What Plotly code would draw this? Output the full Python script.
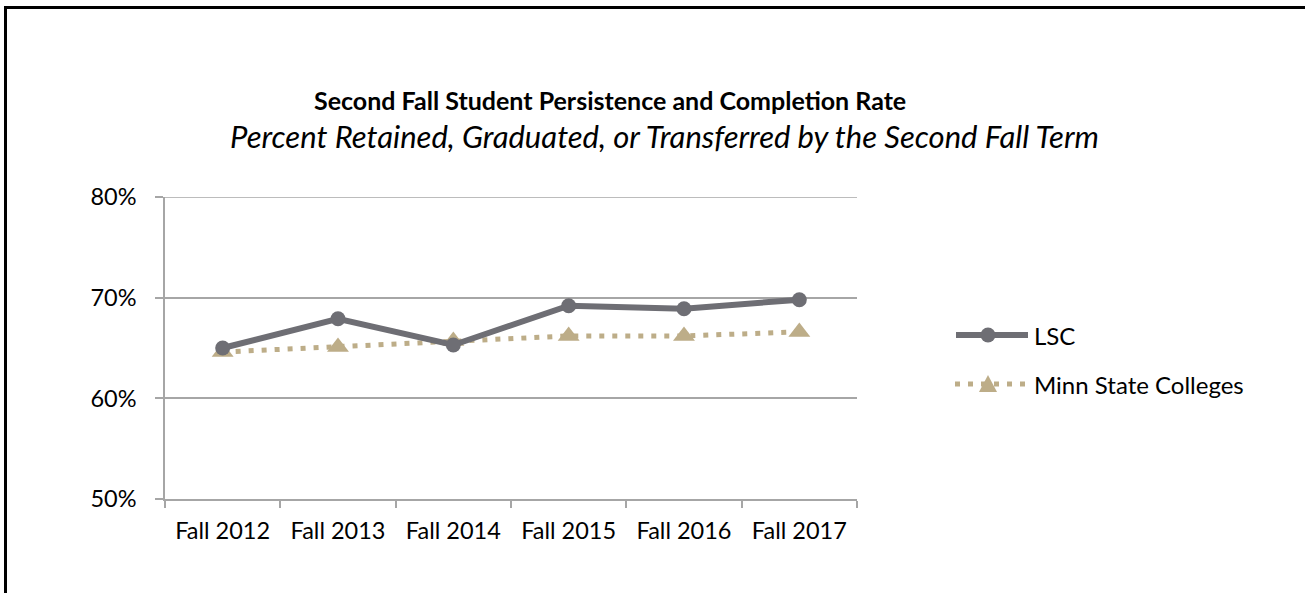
import plotly.graph_objects as go

# Cohort terms and second-fall persistence/completion rates (fractions)
terms = ["Fall 2012", "Fall 2013", "Fall 2014", "Fall 2015", "Fall 2016", "Fall 2017"]
lsc_rate = [0.650, 0.679, 0.653, 0.692, 0.689, 0.698]
minn_state_rate = [0.646, 0.651, 0.657, 0.662, 0.662, 0.666]
y_ticks = [0.5, 0.6, 0.7, 0.8]

series_names = ["LSC", "Minn State Colleges"]
LSC_COLOR = "#6E6E74"
MSC_COLOR = "#BDAD88"
GRID = "#A6A6A6"
FONT = "Lato"

W, H = 1305, 593
L, R, T, B = 165, 1305 - 857, 197, 593 - 499
PW, PH = W - L - R, H - T - B


def px_x(x):
    return (x - L) / PW


def px_y(y):
    return (H - B - y) / PH


fig = go.Figure()
fig.add_trace(go.Scatter(
    x=terms, y=minn_state_rate, name=series_names[1], mode="lines+markers",
    line=dict(color=MSC_COLOR, width=5, dash="5px,8px"),
    marker=dict(symbol="triangle-up", size=19, color=MSC_COLOR),
    showlegend=False,
))
fig.add_trace(go.Scatter(
    x=terms, y=lsc_rate, name=series_names[0], mode="lines+markers",
    line=dict(color=LSC_COLOR, width=6),
    marker=dict(symbol="circle", size=15, color=LSC_COLOR),
    showlegend=False,
))

shapes = []
annotations = []

# top gridline at the upper end of the value range
shapes.append(dict(type="line", xref="paper", yref="y",
                   x0=0, x1=1, y0=y_ticks[-1], y1=y_ticks[-1],
                   line=dict(color=GRID, width=1.5), layer="below"))

# outer frame (top and left edges visible)
shapes.append(dict(type="rect", xref="paper", yref="paper",
                   x0=px_x(5.5), x1=px_x(1320), y0=px_y(608), y1=px_y(7.5),
                   line=dict(color="black", width=3), layer="above"))

# legend: LSC
ly1 = px_y(335)
shapes.append(dict(type="line", xref="paper", yref="paper",
                   x0=px_x(956), x1=px_x(1028), y0=ly1, y1=ly1,
                   line=dict(color=LSC_COLOR, width=6)))
shapes.append(dict(type="circle", xref="paper", yref="paper",
                   xsizemode="pixel", ysizemode="pixel",
                   xanchor=px_x(988), yanchor=ly1,
                   x0=-7.5, x1=7.5, y0=-7.5, y1=7.5,
                   fillcolor=LSC_COLOR, line=dict(width=0)))
annotations.append(dict(x=px_x(1032), y=ly1, xref="paper", yref="paper",
                        text=series_names[0], showarrow=False,
                        xanchor="left", yanchor="middle",
                        font=dict(family=FONT, size=24, color="black")))

# legend: Minn State Colleges
ly2 = px_y(384)
shapes.append(dict(type="line", xref="paper", yref="paper",
                   x0=px_x(955), x1=px_x(1028), y0=ly2, y1=ly2,
                   line=dict(color=MSC_COLOR, width=5, dash="5px,8px")))
shapes.append(dict(type="path", xref="paper", yref="paper",
                   xsizemode="pixel", ysizemode="pixel",
                   xanchor=px_x(988), yanchor=ly2,
                   path="M -9,-8 L 9,-8 L 0,9 Z",
                   fillcolor=MSC_COLOR, line=dict(width=0)))
annotations.append(dict(x=px_x(1032), y=ly2, xref="paper", yref="paper",
                        text=series_names[1], showarrow=False,
                        xanchor="left", yanchor="middle",
                        font=dict(family=FONT, size=24, color="black")))

# titles
annotations.append(dict(x=px_x(610), y=px_y(100), xref="paper", yref="paper",
                        text="<b>Second Fall Student Persistence and Completion Rate</b>",
                        showarrow=False, xanchor="center", yanchor="middle",
                        font=dict(family=FONT, size=25, color="black")))
annotations.append(dict(x=px_x(664), y=px_y(136), xref="paper", yref="paper",
                        text="<i>Percent Retained, Graduated, or Transferred by the Second Fall Term</i>",
                        showarrow=False, xanchor="center", yanchor="middle",
                        font=dict(family=FONT, size=31, color="black")))

fig.update_layout(
    width=W, height=H,
    margin=dict(l=L, r=R, t=T, b=B, pad=0),
    paper_bgcolor="white", plot_bgcolor="white",
    font=dict(family=FONT, size=23, color="black"),
    shapes=shapes, annotations=annotations,
    showlegend=False,
)
fig.update_xaxes(
    type="category", range=[-0.5, len(terms) - 0.5],
    tickson="boundaries", ticks="outside", ticklen=7, tickwidth=1.5,
    tickcolor=GRID, showline=True, linecolor=GRID, linewidth=1.5,
    showgrid=False, ticklabelstandoff=10,
    tickfont=dict(family=FONT, size=23.5, color="black"),
)
fig.update_yaxes(
    range=[0.5, 0.8], tickvals=y_ticks, tickformat=".0%",
    ticks="outside", ticklen=8, tickwidth=1.5, tickcolor=GRID,
    showline=True, linecolor=GRID, linewidth=1.5,
    showgrid=True, gridcolor=GRID, gridwidth=1.5, zeroline=False,
    ticklabelstandoff=14,
    tickfont=dict(family=FONT, size=23.5, color="black"),
)

fig.write_html("out.html")
